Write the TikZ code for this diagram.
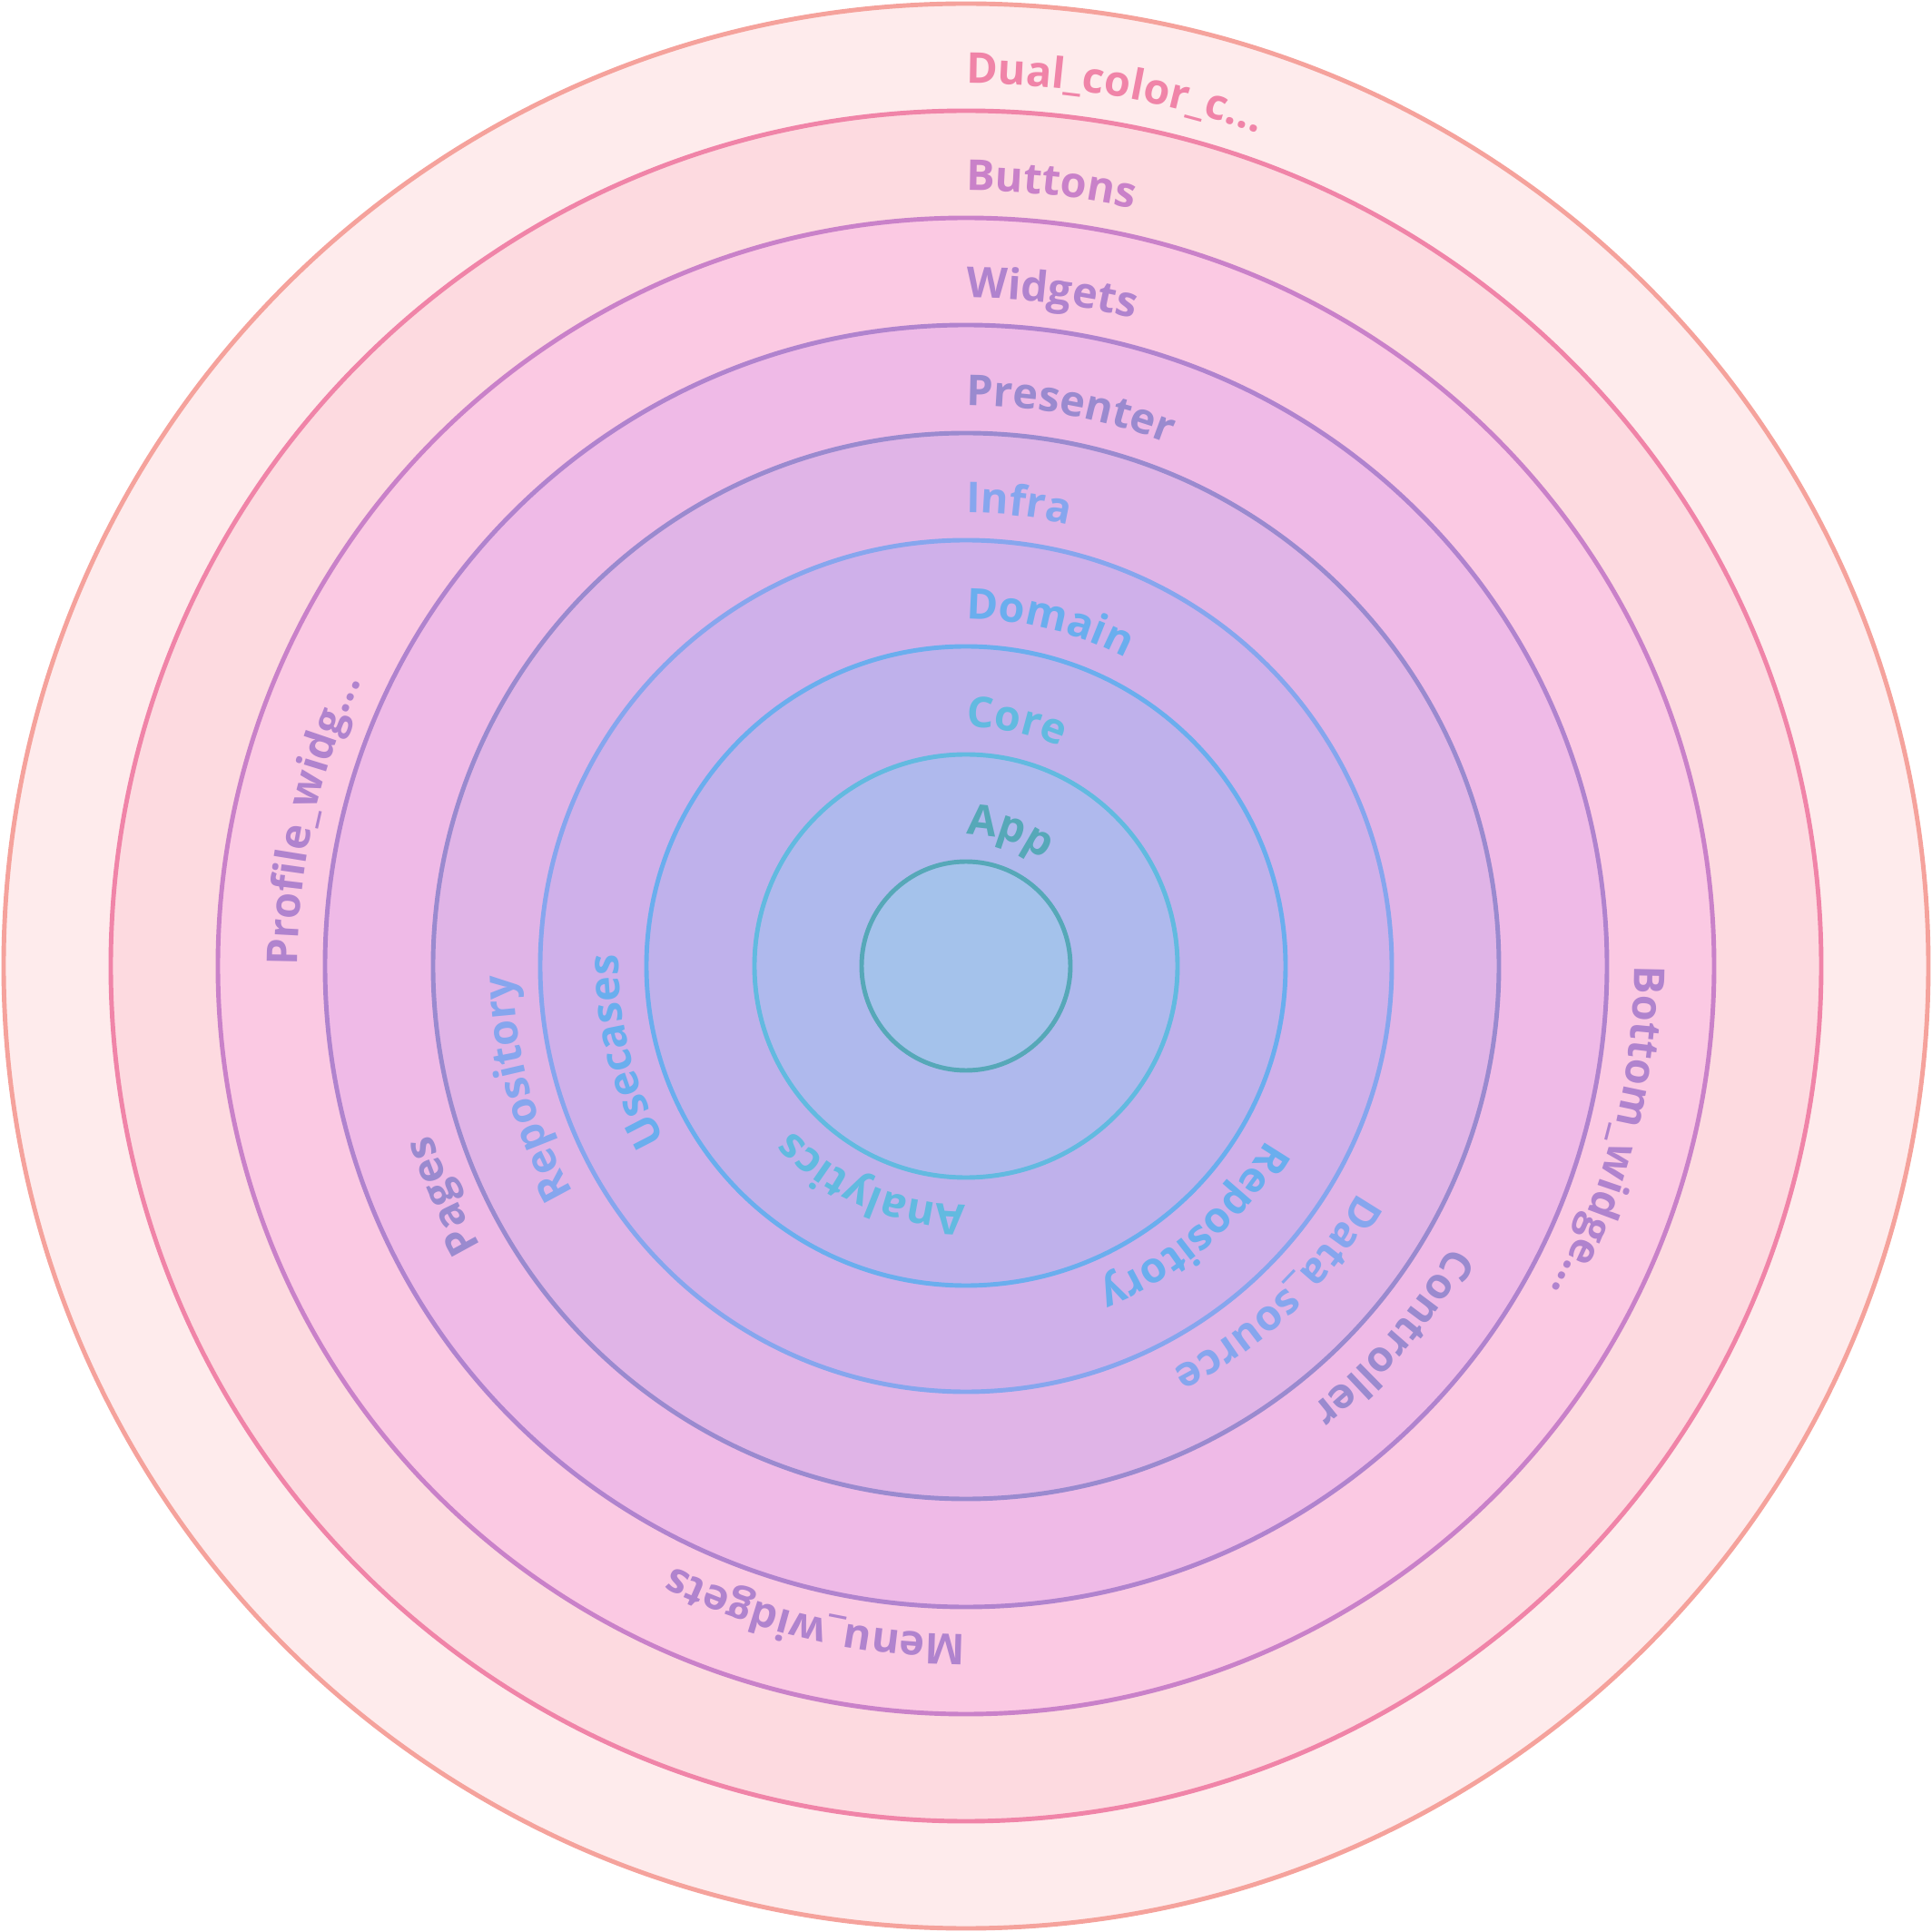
\documentclass[tikz,border=0pt]{standalone}
\usepackage{fontspec}
\setmainfont{Open Sans}
\usetikzlibrary{decorations.text}
\definecolor{fA}{HTML}{FEEBEC}\definecolor{sA}{HTML}{F5A29C}
\definecolor{fB}{HTML}{FDDAE0}\definecolor{sB}{HTML}{F084A8}
\definecolor{fC}{HTML}{FBC9E3}\definecolor{sC}{HTML}{C981C9}
\definecolor{fD}{HTML}{EFBAE7}\definecolor{sD}{HTML}{B083CE}
\definecolor{fE}{HTML}{E0B4E7}\definecolor{sE}{HTML}{9A8ACF}
\definecolor{fF}{HTML}{CFB0EA}\definecolor{sF}{HTML}{86A6EE}
\definecolor{fG}{HTML}{BFB1EB}\definecolor{sG}{HTML}{6AAEEE}
\definecolor{fH}{HTML}{AFB9ED}\definecolor{sH}{HTML}{62BAE0}
\definecolor{fI}{HTML}{A4C2EB}\definecolor{sI}{HTML}{56A8B8}
\newcommand\lblfont{\bfseries\fontsize{13.3}{16}\selectfont}
\newcommand\arclabel[4]{%
  \path[decorate,decoration={text along path,text color=#3,
    text={|\lblfont|#4}}] (#2:#1) arc[start angle=#2,end angle={#2-359},radius=#1];}
\tikzset{ring/.style={line width=1.4pt}}
\begin{document}
\begin{tikzpicture}
\useasboundingbox (-10.64,-10.64) rectangle (10.64,10.64);
\draw[ring,fill=fA,draw=sA] (0,0) circle[radius=10.60];
\draw[ring,fill=fB,draw=sB] (0,0) circle[radius=9.42];
\draw[ring,fill=fC,draw=sC] (0,0) circle[radius=8.24];
\draw[ring,fill=fD,draw=sD] (0,0) circle[radius=7.06];
\draw[ring,fill=fE,draw=sE] (0,0) circle[radius=5.87];
\draw[ring,fill=fF,draw=sF] (0,0) circle[radius=4.69];
\draw[ring,fill=fG,draw=sG] (0,0) circle[radius=3.52];
\draw[ring,fill=fH,draw=sH] (0,0) circle[radius=2.33];
\draw[ring,fill=fI,draw=sI] (0,0) circle[radius=1.15];
% labels
\arclabel{9.72}{90}{sB}{Dual{\_}color{\_}c...}
\arclabel{8.54}{90}{sC}{Buttons}
\arclabel{7.36}{90}{sD}{Widgets}
\arclabel{7.36}{0}{sD}{Bottom{\_}widge...}
\arclabel{7.36}{-90}{sD}{Menu{\_}widgets}
\arclabel{7.36}{180}{sD}{Profile{\_}widg...}
\arclabel{6.17}{90}{sE}{Presenter}
\arclabel{6.17}{-30}{sE}{Controller}
\arclabel{6.17}{210}{sE}{Pages}
\arclabel{4.99}{90}{sF}{Infra}
\arclabel{4.99}{-30}{sF}{Data{\_}source}
\arclabel{4.99}{210}{sF}{Repository}
\arclabel{3.82}{90}{sG}{Domain}
\arclabel{3.82}{-30}{sG}{Repository}
\arclabel{3.82}{210}{sG}{Usecases}
\arclabel{2.63}{90}{sH}{Core}
\arclabel{2.63}{-90}{sH}{Analytics}
\arclabel{1.45}{90}{sI}{App}
\end{tikzpicture}
\end{document}
